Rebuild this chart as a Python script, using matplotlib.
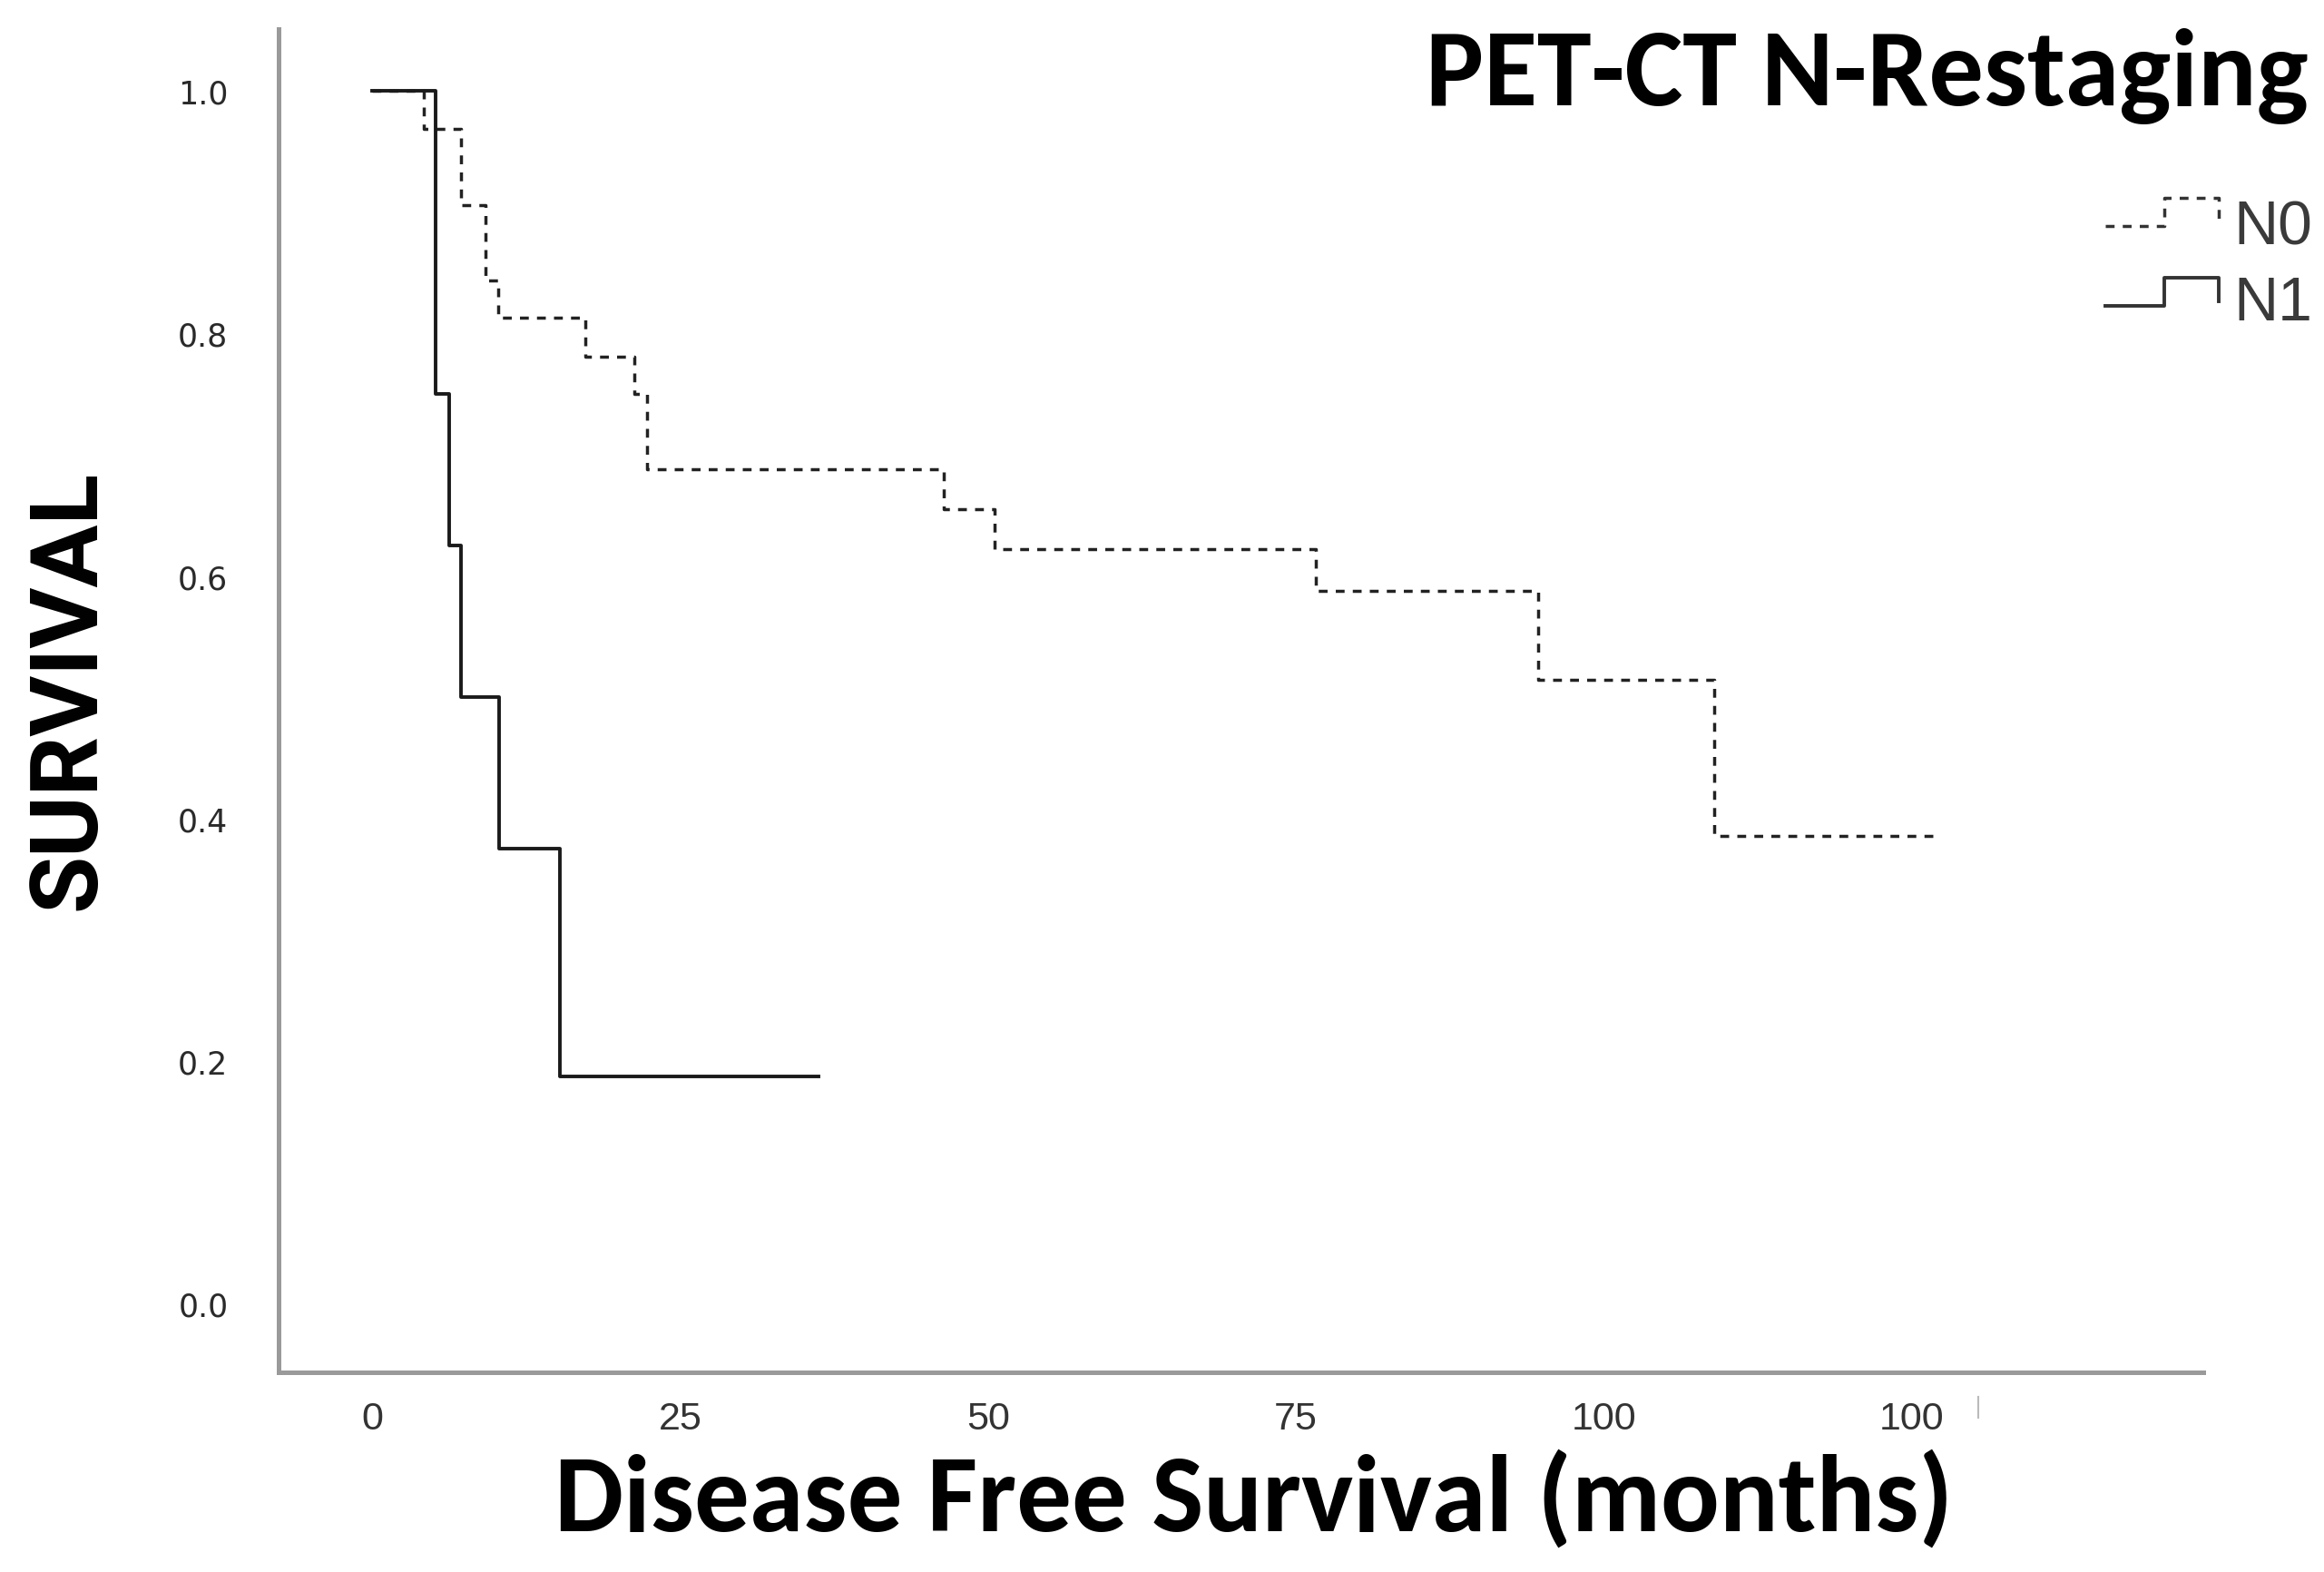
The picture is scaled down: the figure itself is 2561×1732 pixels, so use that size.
import matplotlib
matplotlib.use('Agg')
import matplotlib.pyplot as plt
from matplotlib.lines import Line2D
from matplotlib import font_manager as fm

# ---------------- data ----------------
groups = ['N0', 'N1']
n0_times = [0, 4.2, 7.2, 9.2, 10.2, 17.3, 21.3, 22.3, 46.4, 50.5, 76.6, 94.7, 109.0]
n0_surv = [1.0, 0.969, 0.906, 0.844, 0.813, 0.781, 0.750, 0.688, 0.655, 0.622, 0.588, 0.514, 0.386]
n0_last = 127.1
n1_times = [0, 5.1, 6.2, 7.2, 10.3, 15.2]
n1_surv = [1.0, 0.75, 0.625, 0.5, 0.375, 0.1875]
n1_last = 36.2

x_ticks = [0, 25, 50, 75, 100, 125]
x_tick_labels = ['0', '25', '50', '75', '100', '100']
y_ticks = [0.0, 0.2, 0.4, 0.6, 0.8, 1.0]
y_tick_labels = ['0.0', '0.2', '0.4', '0.6', '0.8', '1.0']

title = 'PET-CT N-Restaging'
xlabel = 'Disease Free Survival (months)'
ylabel = 'SURVIVAL'

# ---------------- fonts ----------------
available = {f.name for f in fm.fontManager.ttflist}
def pick(*names):
    for n in names:
        if n in available:
            return n
    return 'DejaVu Sans'

calibri = pick('Carlito', 'Lato', 'Open Sans')
narrow = pick('Liberation Sans Narrow', 'Liberation Sans')
arialbold = pick('Roboto', 'Liberation Sans')

W, H = 2561, 1733
fig = plt.figure(figsize=(W / 100, H / 100), dpi=100)
fig.patch.set_facecolor('white')

left, right = 307 / W, 2428 / W
bottom, top = 1 - 1513 / H, 1 - 33 / H
ax = fig.add_axes([left, bottom, right - left, top - bottom])

line_n0, = ax.step(n0_times + [n0_last], n0_surv + [n0_surv[-1]], where='post',
                   color='#222222', lw=2.5, linestyle=(0, (2.8, 2.6)))
line_n1, = ax.step(n1_times + [n1_last], n1_surv + [n1_surv[-1]], where='post',
                   color='#1a1a1a', lw=2.8)

ax.set_xlim(-7.62, 148.7)
ax.set_ylim(-0.0567, 1.051)

for s in ['top', 'right']:
    ax.spines[s].set_visible(False)
for s in ['left', 'bottom']:
    ax.spines[s].set_color('#9a9a9a')
    ax.spines[s].set_linewidth(3.6)

ax.set_xticks(x_ticks)
ax.set_xticklabels(x_tick_labels, fontfamily=narrow, fontsize=31, color='#333333')
ax.set_yticks(y_ticks)
ax.set_yticklabels(y_tick_labels, fontfamily='DejaVu Sans', fontsize=25, color='#2a2a2a')
ax.tick_params(axis='x', length=0, pad=22)
ax.tick_params(axis='y', length=0, pad=40)

# stray tick mark at right of x labels
fig.add_artist(Line2D([2180 / W, 2180 / W], [1 - 1540 / H, 1 - 1563 / H],
                      color='#bbbbbb', lw=1.5))

# titles / labels
t_title = fig.text(2544 / W, 1 - 116 / H, title, ha='right', va='baseline',
                   fontfamily=calibri, fontweight='bold', fontsize=80, color='black')
t_xlabel = fig.text(1382 / W, 1 - 1687 / H, xlabel, ha='center', va='baseline',
                    fontfamily=calibri, fontweight='bold', fontsize=80, color='black')
t_ylabel = fig.text(76 / W, 1 - 761 / H, ylabel, ha='center', va='center', rotation=90,
                    fontfamily=arialbold, fontweight='bold', fontsize=70, color='black')

# custom legend with step glyphs
styles = {'N0': dict(color='#333333', lw=2.5, linestyle=(0, (2.8, 2.6))),
          'N1': dict(color='#333333', lw=2.8, linestyle='-')}
legend_rows = {'N0': (250, 219, 248, 243), 'N1': (338, 307, 333, 326)}
for g in groups:
    y_low, y_high, y_end, y_txt = legend_rows[g]
    xs = [2320, 2385, 2385, 2445, 2445]
    ys = [y_low, y_low, y_high, y_high, y_end]
    fig.add_artist(Line2D([x / W for x in xs], [1 - y / H for y in ys], **styles[g]))
    fig.text(2461 / W, 1 - (y_txt + 27) / H, g, ha='left', va='baseline',
             fontfamily=narrow, fontsize=49, color='#3a3a3a')

# fit text sizes to measured extents
fig.canvas.draw()
r = fig.canvas.get_renderer()
def fit(t, target, dim='w'):
    bb = t.get_window_extent(renderer=r)
    cur = bb.width if dim == 'w' else bb.height
    t.set_fontsize(t.get_fontsize() * target / cur)

fit(t_title, 973)
fit(t_xlabel, 1542)
fit(t_ylabel, 485, 'h')

fig.savefig('out.png', dpi=100, facecolor='white')
